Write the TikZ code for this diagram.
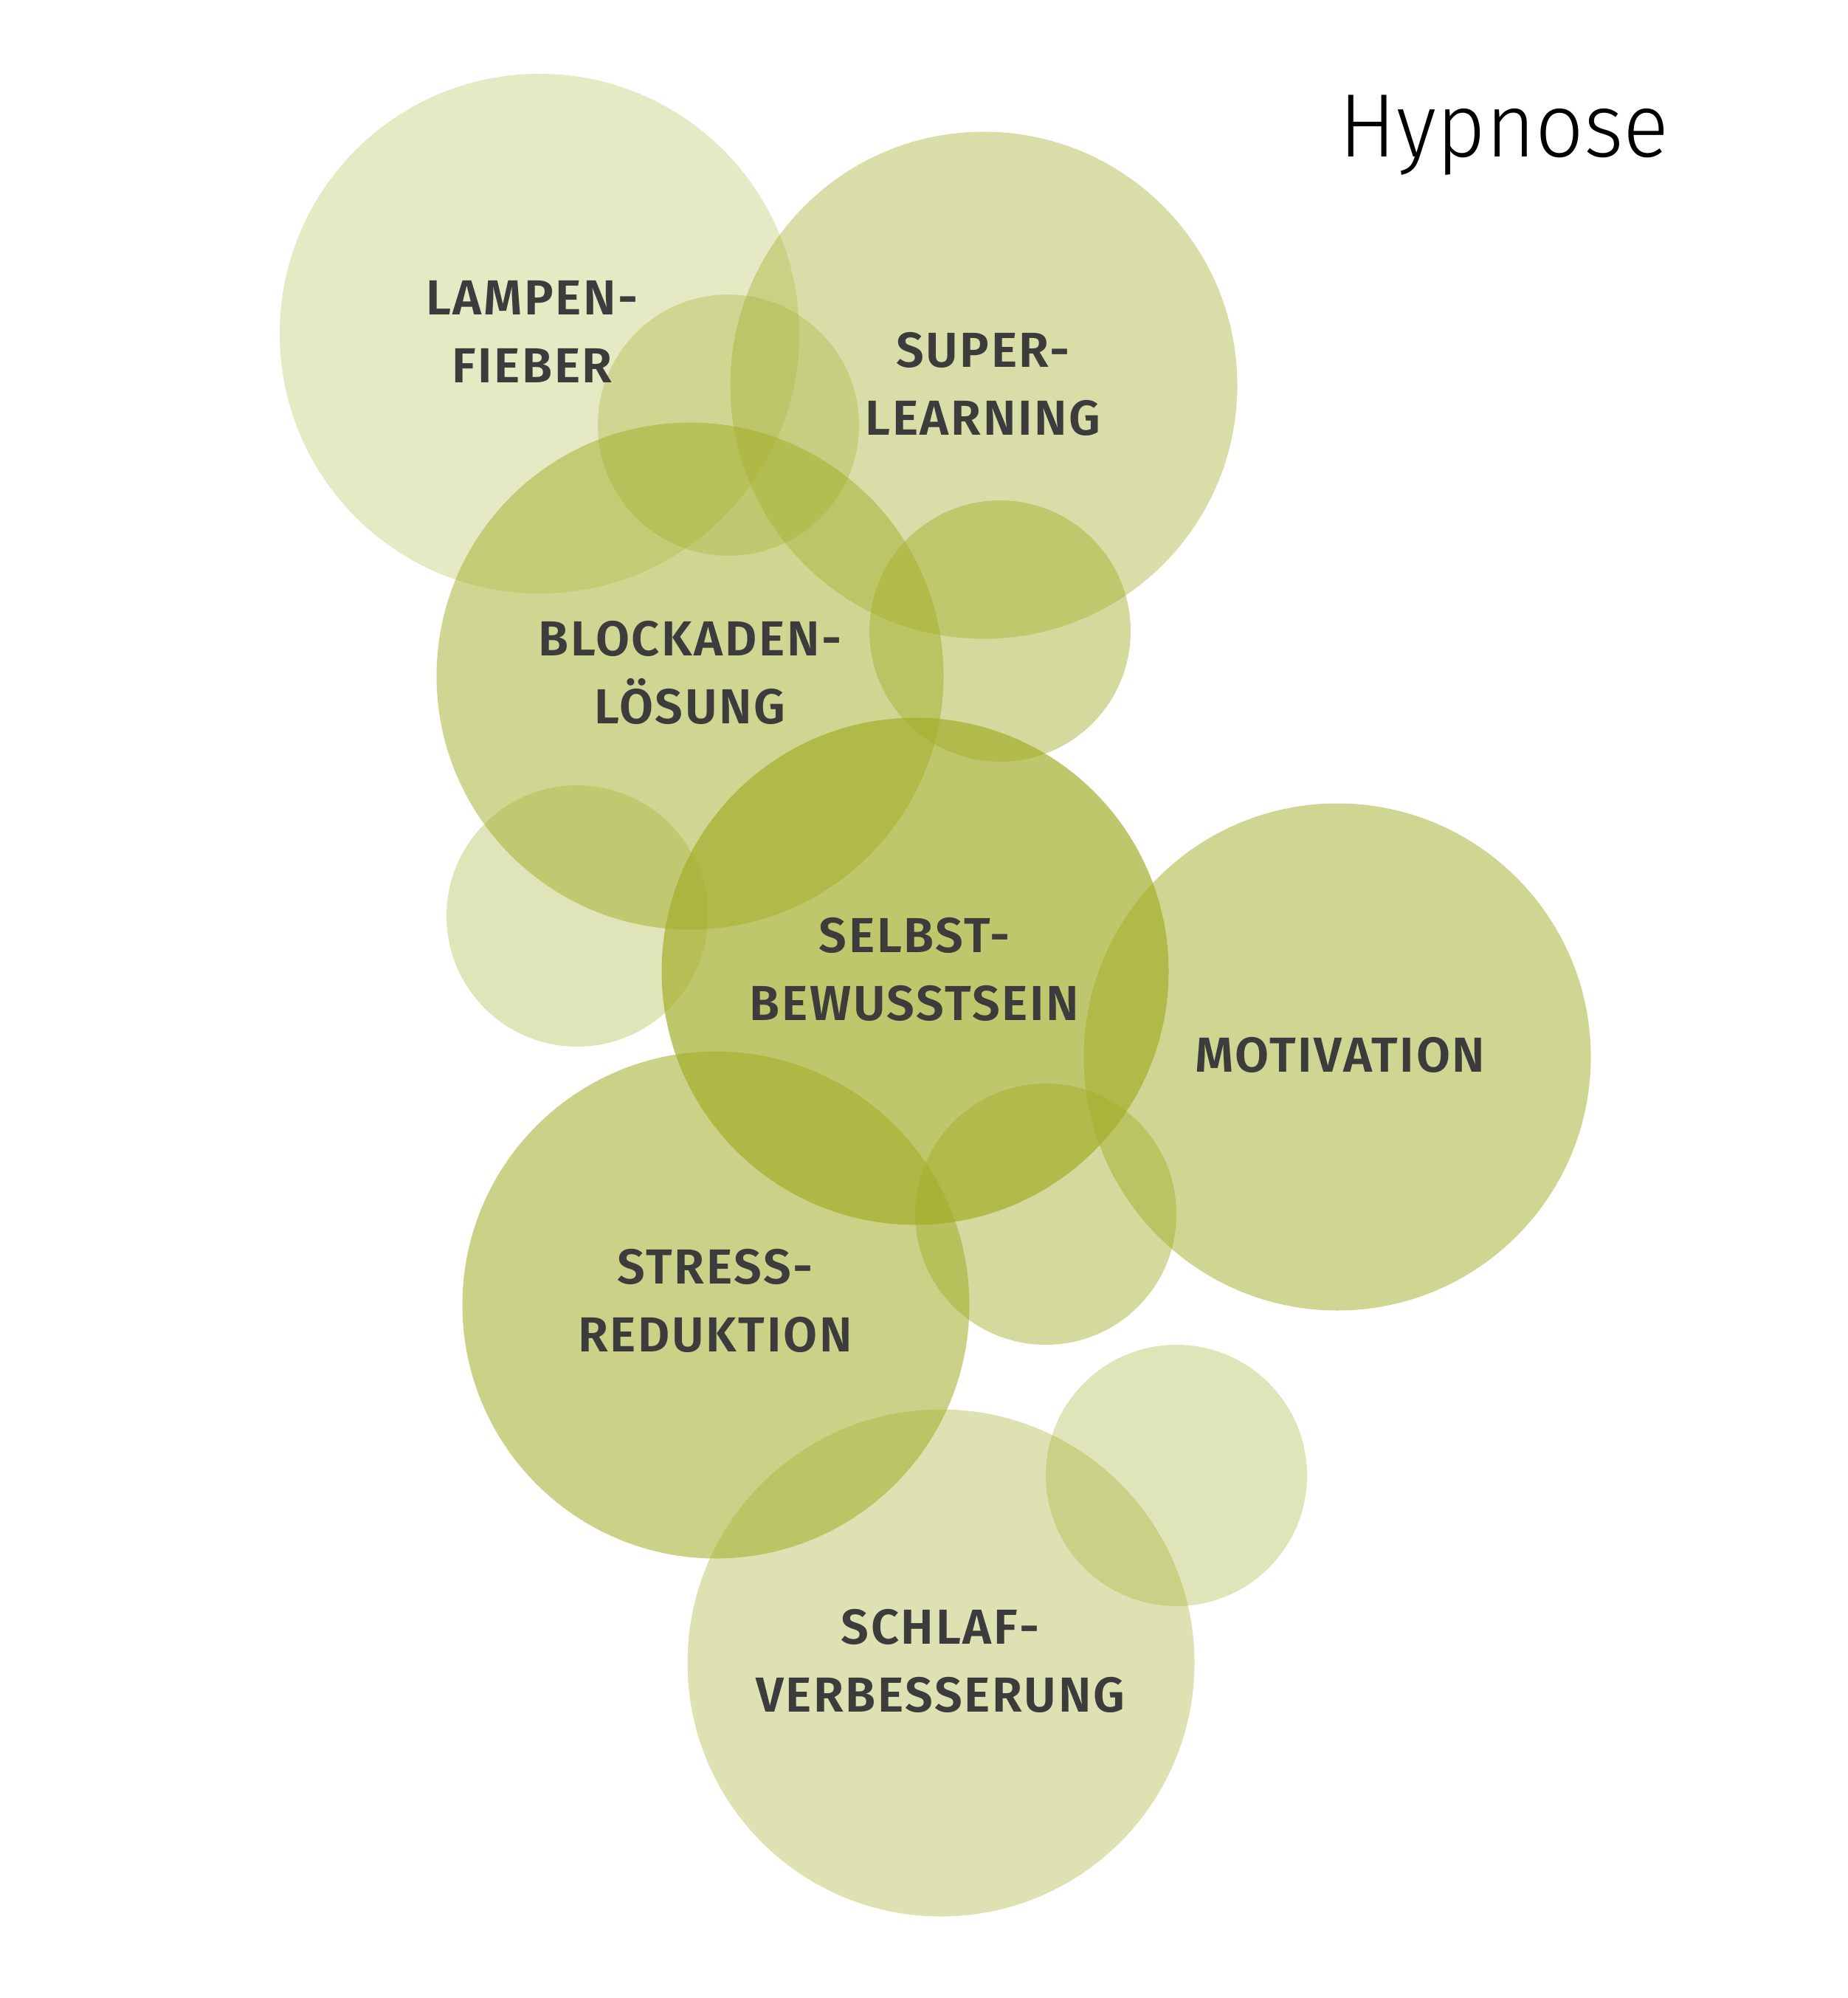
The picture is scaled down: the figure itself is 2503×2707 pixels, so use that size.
\documentclass[tikz,border=0pt]{standalone}
\usepackage{fontspec}
\setmainfont{Fira Sans}
\newfontfamily\lightfont{Fira Sans Light}
\newfontfamily\labelfont{Fira Sans SemiBold}[LetterSpace=4]
\definecolor{olivebase}{RGB}{160,173,38}
\definecolor{labelgray}{RGB}{60,60,60}
\begin{document}
\begin{tikzpicture}[x=0.3pt,y=-0.3pt,
  bubble/.style={circle, inner sep=0pt, outer sep=0pt, draw=none, fill=olivebase, fill opacity=#1},
  bigbubble/.style={bubble=#1, minimum size=206.1pt},
  smallbubble/.style={bubble=#1, minimum size=106.2pt},
  lbl/.style={align=center, inner sep=0pt, text=labelgray, font=\labelfont\fontsize{20pt}{27.6pt}\selectfont}]
\useasboundingbox (0,0) rectangle (2503,2707);
% circles
\node[bubble=0.27, minimum size=211.2pt] (lampen) at (731,452) {};
\node[bigbubble=0.40] (super) at (1333,522) {};
\node[smallbubble=0.32] (s1) at (987,576) {};
\node[bigbubble=0.50] (block) at (935,916) {};
\node[smallbubble=0.45] (s2) at (1355,855) {};
\node[smallbubble=0.32] (s3) at (782,1241) {};
\node[bigbubble=0.68] (selbst) at (1240,1316) {};
\node[bigbubble=0.50] (motiv) at (1812,1432) {};
\node[smallbubble=0.45] (s4) at (1417,1645) {};
\node[bigbubble=0.55] (stress) at (970,1768) {};
\node[smallbubble=0.32] (s5) at (1594,1999) {};
\node[bigbubble=0.35] (schlaf) at (1275,2253) {};
% labels
\node[lbl] (lampenL) at (721,449) {LAMPEN-\\FIEBER};
\node[lbl] (superL) at (1332,520) {SUPER-\\LEARNING};
\node[lbl] (blockL) at (935,911) {BLOCKADEN-\\LÖSUNG};
\node[lbl] (selbstL) at (1239,1313) {SELBST-\\BEWUSSTSEIN};
\node[lbl] (motivL) at (1816,1429) {MOTIVATION};
\node[lbl] (stressL) at (969,1762) {STRESS-\\REDUKTION};
\node[lbl] (schlafL) at (1274,2250) {SCHLAF-\\VERBESSERUNG};
% title
\node[anchor=base west, inner sep=0pt, font=\lightfont\fontsize{36.6pt}{40pt}\selectfont] (title) at (1814,213) {\scalebox{0.946}[1]{Hypnose}};
\end{tikzpicture}
\end{document}
